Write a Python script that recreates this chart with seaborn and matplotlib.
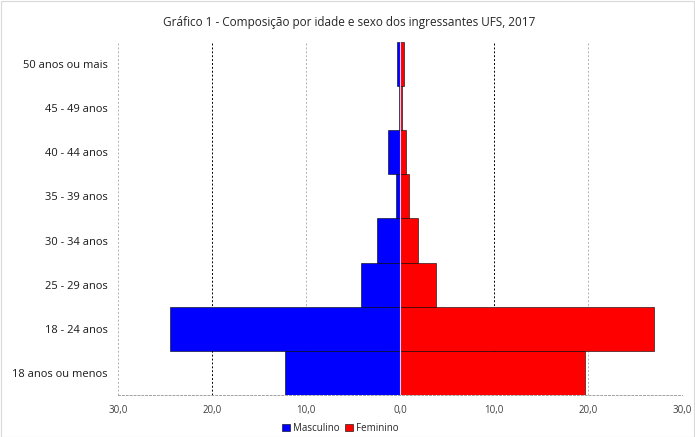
import numpy as np
import pandas as pd
import matplotlib
matplotlib.use('Agg')
import matplotlib.pyplot as plt
from matplotlib.patches import Patch
import seaborn as sns

# Age groups, top to bottom as in the chart
faixas = ['50 anos ou mais', '45 - 49 anos', '40 - 44 anos', '35 - 39 anos',
          '30 - 34 anos', '25 - 29 anos', '18 - 24 anos', '18 anos ou menos']
masculino = [0.35, 0.1, 1.25, 0.45, 2.4, 4.2, 24.5, 12.2]
feminino = [0.4, 0.25, 0.65, 0.95, 1.9, 3.85, 27.0, 19.7]
ticks = [-30, -20, -10, 0, 10, 20, 30]

df = pd.DataFrame({'faixa': faixas,
                   'masc': [-v for v in masculino],
                   'fem': feminino})

sns.set_style('white')
plt.rcParams['font.family'] = ['Open Sans', 'DejaVu Sans']

fig = plt.figure(figsize=(6.95, 4.37), dpi=100)
ax = fig.add_axes([0.170, 0.096, 0.811, 0.808])

sns.barplot(data=df, y='faixa', x='masc', order=faixas, color='#0000FF',
            width=1, edgecolor='black', linewidth=0.4, saturation=1, ax=ax)
sns.barplot(data=df, y='faixa', x='fem', order=faixas, color='#FF0000',
            width=1, edgecolor='black', linewidth=0.4, saturation=1, ax=ax)
ax.axvline(0, color='#d0d0ff', lw=0.8, zorder=3)

# gridlines
for t in ticks:
    if t in (-20, 10):
        ax.axvline(t, color='black', ls=(0, (2, 2)), lw=0.7, zorder=0)
    elif t != 0:
        ax.axvline(t, color='#b0b0b0', ls=(0, (2, 2)), lw=0.7, zorder=0)

ax.set_xlim(-30, 30)
ax.set_ylim(len(faixas) - 0.5, -0.5)
ax.set_xticks(ticks)
ax.set_xticklabels([f'{abs(t):.1f}'.replace('.', ',') for t in ticks], fontsize=7, color='#404040')
ax.tick_params(axis='y', labelsize=8, colors='#1a1a1a', length=0, pad=7.5)
ax.tick_params(axis='x', length=0, pad=7)
ax.set_xlabel('')
ax.set_ylabel('')
for s in ['top', 'right', 'left']:
    ax.spines[s].set_visible(False)
ax.spines['bottom'].set_color('#a0a0a0')
ax.spines['bottom'].set_linestyle((0, (2, 2)))
ax.spines['bottom'].set_linewidth(0.7)

fig.text(0.503, 0.948, 'Gráfico 1 - Composição por idade e sexo dos ingressantes UFS, 2017',
         ha='center', va='center', fontsize=8.5, color='#262626')

handles = [Patch(facecolor='#0000FF', edgecolor='black', lw=0.4, label='Masculino'),
           Patch(facecolor='#FF0000', edgecolor='black', lw=0.4, label='Feminino')]
fig.legend(handles=handles, loc='center', bbox_to_anchor=(0.49, 0.02), ncol=2,
           frameon=False, fontsize=7, handlelength=0.8, handleheight=0.8,
           handletextpad=0.3, columnspacing=0.6)

# light figure border
fig.patches.append(plt.Rectangle((0.001, 0.001), 0.997, 0.997, transform=fig.transFigure,
                                 fill=False, edgecolor='#d9d9d9', lw=0.8))

fig.savefig('out.png', dpi=100)
